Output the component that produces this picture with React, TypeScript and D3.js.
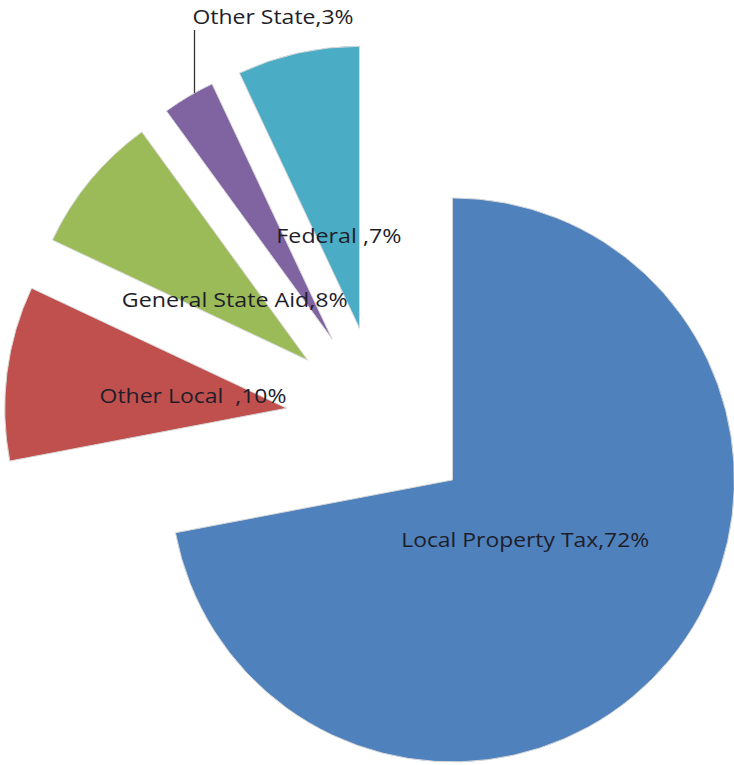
import React from "react";
import * as d3 from "d3";

const categories = ["Local Property Tax", "Other Local  ", "General State Aid", "Other State", "Federal "];
const values = [72, 10, 8, 3, 7];
const percentLabels = ["72%", "10%", "8%", "3%", "7%"];
const colors = ["#4F81BD", "#C0504D", "#9BBB59", "#8064A2", "#4BACC6"];
const labelWidths = [248, 187, 226, 161, 125];

const W = 734;
const H = 765;
const CX = 380;
const CY = 420;
const R = 282;
const EXPLODE = 94;
const LABEL_R = 0.335;

export default function App() {
  const pie = d3.pie<number>().sort(null).startAngle(0).endAngle(2 * Math.PI);
  const arcs = pie(values);
  const arcGen = d3.arc<d3.PieArcDatum<number>>().innerRadius(0).outerRadius(R);

  const slices = arcs.map((a, i) => {
    const mid = (a.startAngle + a.endAngle) / 2;
    const ox = CX + EXPLODE * Math.sin(mid);
    const oy = CY - EXPLODE * Math.cos(mid);
    return { a, i, mid, ox, oy };
  });

  // Other State label is placed outside with a leader line
  const osIdx = 3;
  const os = slices[osIdx];
  const osLabelX = 273;
  const osLabelY = 17;
  const leaderX = osLabelX - labelWidths[osIdx] / 2 + 2;
  const leaderY2 = os.oy - Math.sqrt(R * R - (leaderX - os.ox) ** 2);

  return (
    <svg width={W} height={H} style={{ position: "absolute", left: 0, top: 0, background: "#fff" }}>
      {slices.map((s) => (
        <path
          key={s.i}
          d={arcGen(s.a) || ""}
          transform={`translate(${s.ox},${s.oy})`}
          fill={colors[s.i]}
          stroke="#d8d8d8"
          strokeWidth={1}
        />
      ))}
      <line x1={leaderX} y1={osLabelY + 13} x2={leaderX} y2={leaderY2} stroke="#333" strokeWidth={1.3} />
      {slices.map((s) => {
        const text = `${categories[s.i]},${percentLabels[s.i]}`;
        let x: number, y: number;
        if (s.i === osIdx) {
          x = osLabelX;
          y = osLabelY;
        } else {
          x = s.ox + R * LABEL_R * Math.sin(s.mid);
          y = s.oy - R * LABEL_R * Math.cos(s.mid);
        }
        return (
          <text
            key={"t" + s.i}
            x={x}
            y={y}
            dy="0.35em"
            textAnchor="middle"
            fontFamily="'Open Sans', sans-serif"
            fontSize={19.5}
            fill="#1e1e2a"
            textLength={labelWidths[s.i]}
            lengthAdjust="spacingAndGlyphs"
            style={{ whiteSpace: "pre" }}
          >
            {text}
          </text>
        );
      })}
    </svg>
  );
}
